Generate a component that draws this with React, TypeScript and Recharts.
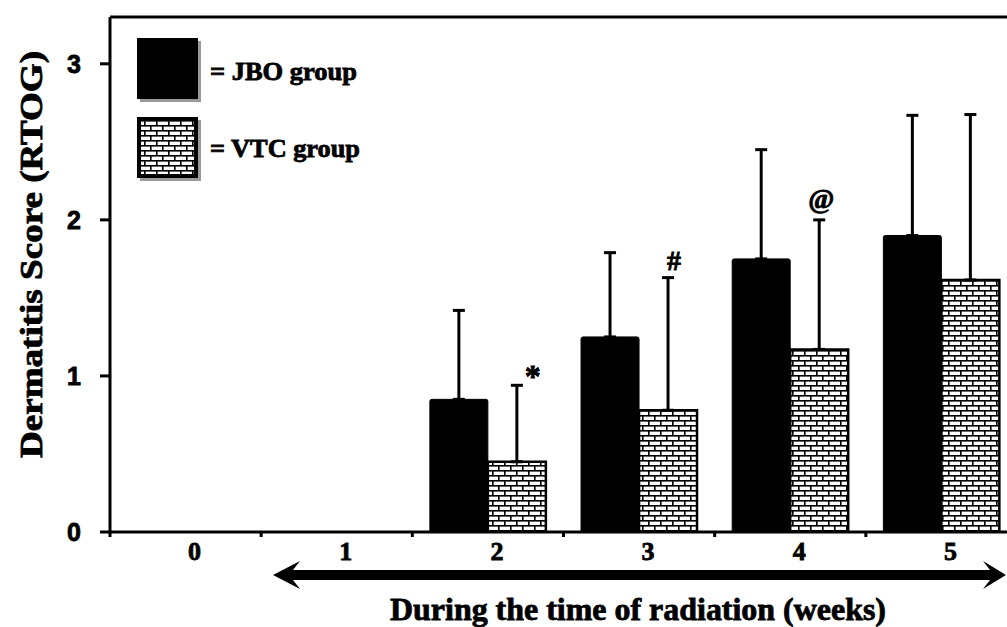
import React from 'react';
import { BarChart, Bar, XAxis, YAxis, ErrorBar, LabelList, ReferenceLine, Customized } from 'recharts';

const weeks = ['0', '1', '2', '3', '4', '5'];
const jboMean: (number | null)[] = [null, null, 0.85, 1.25, 1.75, 1.9];
const jboSd: (number | null)[] = [null, null, 0.57, 0.54, 0.7, 0.77];
const vtcMean: (number | null)[] = [null, null, 0.45, 0.78, 1.17, 1.615];
const vtcSd: (number | null)[] = [null, null, 0.49, 0.85, 0.83, 1.06];
const vtcMarks = ['', '', '*', '#', '@', ''];
const yTicks = [0, 1, 2, 3];
const yMax = 3.3;

const data = weeks.map((w, i) => ({
  week: w,
  jbo: jboMean[i],
  jboErr: jboSd[i] == null ? null : [0, jboSd[i]],
  vtc: vtcMean[i],
  vtcErr: vtcSd[i] == null ? null : [0, vtcSd[i]],
  mark: vtcMarks[i] ? `${vtcMarks[i]}|${i}` : '',
}));

const SERIF = '"Liberation Serif", "Times New Roman", Times, serif';
const SANS = '"Liberation Sans", Arial, Helvetica, sans-serif';
const heavy = { stroke: '#000', strokeWidth: 0.8, paintOrder: 'stroke' as const };

const markStyle: Record<string, { dx: number; dy: number; size: number }> = {
  '*': { dx: 16, dy: 2, size: 32 },
  '#': { dx: 6, dy: -8, size: 28 },
  '@': { dx: 2, dy: -12, size: 28 },
};

const MarkLabel = (props: any) => {
  const { x, y, width, height, value } = props;
  if (!value) return null;
  const [sym, idxStr] = String(value).split('|');
  if (!sym) return null;
  const i = Number(idxStr);
  const mean = vtcMean[i] as number;
  const sd = vtcSd[i] as number;
  const pxPerUnit = Math.abs(Number(height)) / mean;
  const topY = Number(y) - sd * pxPerUnit;
  const st = markStyle[sym] || { dx: 0, dy: -8, size: 24 };
  const cx = Number(x) + Number(width) / 2 + st.dx;
  return (
    <text x={cx} y={topY + st.dy} textAnchor="middle" fontFamily={SERIF} fontWeight="bold" fontSize={st.size} fill="#000" {...heavy}>
      {sym}
    </text>
  );
};

const XTick = (props: any) => {
  const { x, y, payload } = props;
  const half = payload && typeof payload.offset === 'number' && payload.offset > 0 ? payload.offset : 75.6;
  return (
    <g>
      <line x1={x - half} x2={x - half} y1={y} y2={y + 5} stroke="#000" strokeWidth={3} />
      <text x={x + 9} y={y + 28} textAnchor="middle" fontFamily={SERIF} fontWeight="bold" fontSize={26} fill="#000" {...heavy}>
        {payload.value}
      </text>
    </g>
  );
};

const YTick = (props: any) => {
  const { x, y, payload } = props;
  return (
    <text x={x} y={y + 9} textAnchor="end" fontFamily={SANS} fontWeight="bold" fontSize={25} fill="#000" {...heavy}>
      {payload.value}
    </text>
  );
};

const Overlay = () => (
  <g>
    <defs>
      <pattern id="brick" width={12} height={10} patternUnits="userSpaceOnUse">
        <rect x={0} y={0} width={12} height={10} fill="#fff" />
        <rect x={0} y={0} width={12} height={1.6} fill="#000" />
        <rect x={0} y={5} width={12} height={1.6} fill="#000" />
        <rect x={0} y={0} width={1.6} height={5} fill="#000" />
        <rect x={6} y={5} width={1.6} height={5} fill="#000" />
      </pattern>
    </defs>
    {/* legend */}
    <rect x={140} y={41} width={61} height={61} fill="#9a9a9a" />
    <rect x={137} y={38} width={61} height={61} fill="#000" />
    <text x={210} y={80} fontFamily={SERIF} fontWeight="bold" fontSize={26} textLength={147} lengthAdjust="spacingAndGlyphs" fill="#000" {...heavy}>
      = JBO group
    </text>
    <rect x={140} y={120} width={61} height={61} fill="#9a9a9a" />
    <rect x={139} y={119} width={57} height={57} fill="url(#brick)" stroke="#000" strokeWidth={4} />
    <text x={210} y={157} fontFamily={SERIF} fontWeight="bold" fontSize={26} textLength={150} lengthAdjust="spacingAndGlyphs" fill="#000" {...heavy}>
      = VTC group
    </text>
    {/* y-axis title */}
    <text
      x={0}
      y={0}
      transform="translate(42, 254.5) rotate(-90)"
      textAnchor="middle"
      fontFamily={SERIF}
      fontWeight="bold"
      fontSize={32}
      textLength={407}
      lengthAdjust="spacingAndGlyphs"
      fill="#000"
      {...heavy}
    >
      Dermatitis Score (RTOG)
    </text>
    {/* double arrow */}
    <path
      d="M273,575 L300,561 L293,570 L990,570 L983,561 L1006,575 L983,589 L990,580 L293,580 L300,589 Z"
      fill="#000"
    />
    {/* x-axis title */}
    <text x={390} y={620} fontFamily={SERIF} fontWeight="bold" fontSize={32} textLength={496} lengthAdjust="spacingAndGlyphs" fill="#000" {...heavy}>
      During the time of radiation (weeks)
    </text>
  </g>
);

export default function App() {
  return (
    <div style={{ position: 'fixed', left: 0, top: 0, width: 1007, height: 627, overflow: 'hidden', background: '#fff' }}>
      <BarChart
        width={1040}
        height={627}
        data={data}
        margin={{ top: 17, right: 23, left: 0, bottom: 0 }}
        barCategoryGap="11.6%"
        barGap={0}
      >
        <XAxis
          dataKey="week"
          height={95}
          axisLine={{ stroke: '#000', strokeWidth: 3 }}
          tickLine={false}
          tickSize={0}
          tickMargin={0}
          tick={<XTick />}
          interval={0}
        />
        <YAxis
          width={110}
          domain={[0, yMax]}
          ticks={yTicks}
          allowDataOverflow
          axisLine={{ stroke: '#000', strokeWidth: 3 }}
          tickLine={{ stroke: '#000', strokeWidth: 3 }}
          tickSize={10}
          tickMargin={19}
          tick={<YTick />}
        />
        <ReferenceLine y={yMax} stroke="#000" strokeWidth={3} />
        <Bar dataKey="jbo" fill="#000" stroke="#000" strokeWidth={1} radius={[2, 2, 0, 0]} isAnimationActive={false}>
          <ErrorBar dataKey="jboErr" width={6} strokeWidth={3} stroke="#000" direction="y" />
        </Bar>
        <Bar dataKey="vtc" fill="url(#brick)" stroke="#000" strokeWidth={2.5} isAnimationActive={false}>
          <ErrorBar dataKey="vtcErr" width={6} strokeWidth={3} stroke="#000" direction="y" />
          <LabelList dataKey="mark" content={<MarkLabel />} />
        </Bar>
        <Customized component={Overlay} />
      </BarChart>
    </div>
  );
}
